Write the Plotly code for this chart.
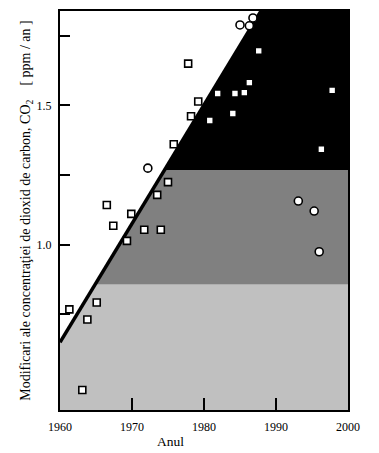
import plotly.graph_objects as go

# ---- data ----
square_years = [1963.1, 1961.3, 1963.8, 1965.1, 1966.5, 1967.4, 1969.9, 1969.3,
                1971.7, 1974.0, 1973.5, 1975.0, 1975.8, 1978.2, 1979.2, 1977.8,
                1980.8, 1981.9, 1984.3, 1985.6, 1986.3, 1984.0, 1987.6, 1997.8, 1996.3]
square_values = [0.479, 0.768, 0.732, 0.793, 1.143, 1.068, 1.111, 1.014,
                 1.054, 1.054, 1.179, 1.225, 1.361, 1.461, 1.514, 1.650,
                 1.446, 1.543, 1.543, 1.546, 1.582, 1.471, 1.696, 1.554, 1.343]
circle_years = [1972.2, 1985.0, 1986.3, 1986.8, 1993.1, 1995.3, 1996.0]
circle_values = [1.275, 1.789, 1.786, 1.814, 1.157, 1.121, 0.975]

trend_start_year = 1960
trend_start_value = 0.65
trend_slope = 0.0426          # ppm/an per year
band_limits = [0.857, 1.268]  # light gray / dark gray / black boundaries

x_ticks = [1960, 1970, 1980, 1990, 2000]
x_ticktext = ["1960", "1970", "1980", "1990", "2000"]
y_ticks = [0.75, 1.0, 1.25, 1.5, 1.75]
y_ticktext = [" ", "1.0", " ", "1.5", " "]

x_range = [1960, 2000]
y_range = [0.407, 1.839]

FONT = "Liberation Serif, Times New Roman, serif"


def x_on_trend(v):
    return trend_start_year + (v - trend_start_value) / trend_slope


lo, hi = band_limits
y_bottom = y_range[0] - 0.05
y_top = y_range[1] + 0.05
x_end = x_range[1]

fig = go.Figure()

# light gray band
fig.add_trace(go.Scatter(
    x=[trend_start_year, trend_start_year, x_on_trend(lo), x_end, x_end],
    y=[y_bottom, trend_start_value, lo, lo, y_bottom],
    fill="toself", fillcolor="#c0c0c0", line=dict(width=0), mode="lines",
    hoverinfo="skip", showlegend=False))
# dark gray band
fig.add_trace(go.Scatter(
    x=[x_on_trend(lo), x_on_trend(hi), x_end, x_end],
    y=[lo, hi, hi, lo],
    fill="toself", fillcolor="#808080", line=dict(width=0), mode="lines",
    hoverinfo="skip", showlegend=False))
# black band
fig.add_trace(go.Scatter(
    x=[x_on_trend(hi), x_on_trend(y_top), x_end, x_end],
    y=[hi, y_top, y_top, hi],
    fill="toself", fillcolor="#000000", line=dict(width=0), mode="lines",
    hoverinfo="skip", showlegend=False))
# trend line
fig.add_trace(go.Scatter(
    x=[trend_start_year, x_on_trend(y_top)],
    y=[trend_start_value, y_top],
    mode="lines", line=dict(color="black", width=3.5),
    hoverinfo="skip", showlegend=False))
# square points
fig.add_trace(go.Scatter(
    x=square_years, y=square_values, mode="markers",
    marker=dict(symbol="square", size=7, color="white",
                line=dict(color="black", width=1.6)),
    showlegend=False))
# circle points
fig.add_trace(go.Scatter(
    x=circle_years, y=circle_values, mode="markers",
    marker=dict(symbol="circle", size=8, color="white",
                line=dict(color="black", width=1.6)),
    showlegend=False))

fig.update_layout(
    width=379, height=453,
    margin=dict(l=60, r=31, t=9, b=43),
    paper_bgcolor="white", plot_bgcolor="white",
    font=dict(family=FONT, size=12, color="black"),
    xaxis=dict(range=x_range, tickvals=x_ticks, ticktext=x_ticktext,
               ticks="inside", ticklen=12, tickwidth=2, tickcolor="black",
               ticklabelstandoff=5,
               showline=True, mirror=True, linewidth=2, linecolor="black",
               showgrid=False, zeroline=False,
               tickfont=dict(family=FONT, size=12, color="black")),
    yaxis=dict(range=y_range, tickvals=y_ticks, ticktext=y_ticktext,
               ticks="inside", ticklen=10, tickwidth=1.5, tickcolor="black",
               ticklabelstandoff=4,
               showline=True, mirror=True, linewidth=2, linecolor="black",
               showgrid=False, zeroline=False,
               tickfont=dict(family=FONT, size=12, color="black"),
               title=dict(text="Modificari ale concentraţiei de dioxid de carbon, CO<sub>2</sub>&nbsp;&nbsp;&nbsp;&nbsp;[ ppm / an ]",
                          font=dict(family=FONT, size=14, color="black"),
                          standoff=3)),
    annotations=[
        dict(text="Anul", xref="paper", yref="paper", x=(170 - 60) / 288, y=(410 - 442) / 401,
             xanchor="center", yanchor="middle", showarrow=False,
             font=dict(family=FONT, size=13.5, color="black")),
    ],
)

fig.write_html("out.html", config={"displayModeBar": False},
               post_script="document.body.style.margin='0';")
